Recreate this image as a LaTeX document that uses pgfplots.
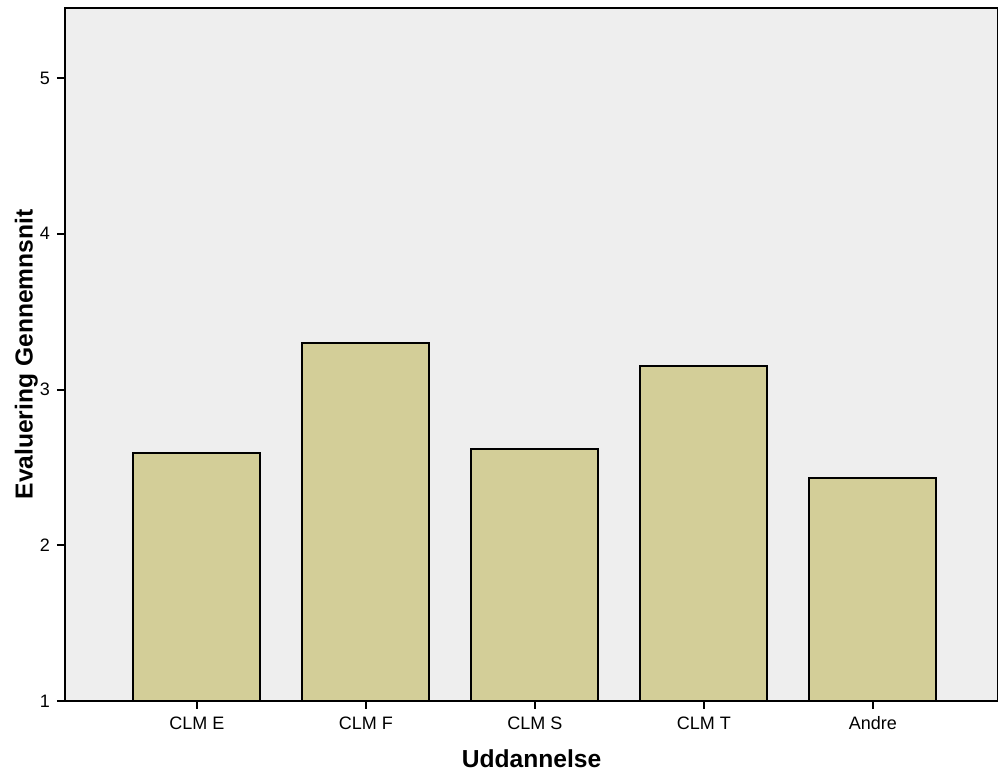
\documentclass[border=0pt]{standalone}
\usepackage{fontspec}
\setmainfont{Liberation Sans}
\usepackage{pgfplots}
\pgfplotsset{compat=1.18}
\definecolor{bgc}{RGB}{238,238,238}
\definecolor{barc}{RGB}{211,206,152}
\begin{document}
\begin{tikzpicture}
\begin{axis}[
  scale only axis,
  width=466.5pt, height=346.5pt,
  xmin=-0.781, xmax=4.74,
  ymin=1, ymax=5.45,
  axis background/.style={fill=bgc},
  axis line style={line width=1pt},
  xtick={0,1,2,3,4},
  xticklabels={CLM E,CLM F,CLM S,CLM T,Andre},
  ytick={1,2,3,4,5},
  tick style={line width=1pt, black},
  major tick length=4pt,
  tick align=outside,
  xtick pos=bottom, ytick pos=left,
  ticklabel style={font=\fontsize{9}{10}\selectfont},
  xticklabel style={text height=6.6pt, text depth=0pt},
  /pgf/number format/assume math mode=true,
  xlabel={\textbf{Uddannelse}},
  ylabel={\textbf{Evaluering Gennemnsnit}},
  label style={font=\fontsize{12.3}{14}\selectfont},
  xlabel style={at={(axis description cs:0.5,-0.0606)}, anchor=north},
  ylabel style={at={(axis description cs:-0.0215,0.5)}, anchor=south, rotate=0},
  clip=false,
]
\addplot[ybar, bar width=63.5pt, bar shift=0pt, fill=barc, draw=black, line width=1pt]
  coordinates {(0,2.59) (1,3.30) (2,2.62) (3,3.15) (4,2.43)};
\coordinate (bl) at (rel axis cs:0,0);
\coordinate (tr) at (rel axis cs:1,1);
\end{axis}
\pgfresetboundingbox
\path[use as bounding box] ([xshift=-32.5pt,yshift=-40pt]bl) rectangle ([yshift=4pt]tr);
\end{tikzpicture}
\end{document}
